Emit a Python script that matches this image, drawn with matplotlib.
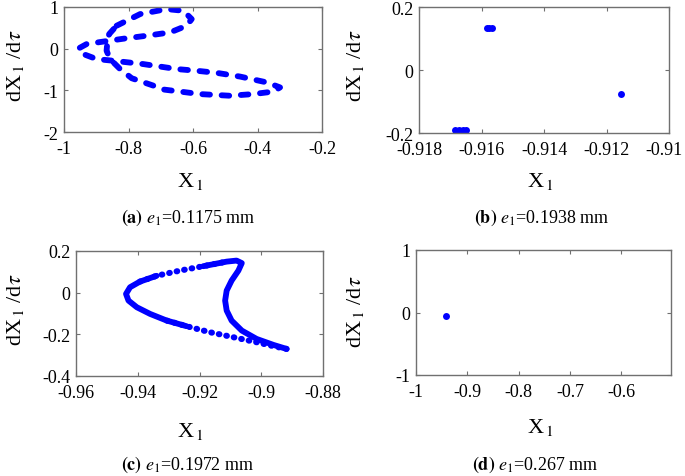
import numpy as np
import matplotlib
matplotlib.use("Agg")
import matplotlib.pyplot as plt
import matplotlib.transforms as mtransforms

plt.rcParams["font.family"] = ["Liberation Serif", "DejaVu Serif"]
plt.rcParams["mathtext.fontset"] = "stix"

# ---------- data ----------
# (a) e1 = 0.1175 mm : closed orbit
xa = [-0.837, -0.764, -0.682, -0.63, -0.604, -0.62, -0.671, -0.744, -0.806,
      -0.878, -0.93, -0.956, -0.94, -0.899, -0.847, -0.754, -0.65, -0.589,
      -0.527, -0.454, -0.371, -0.33, -0.351, -0.413, -0.485, -0.578, -0.692,
      -0.718, -0.79, -0.826, -0.857, -0.868, -0.865, -0.86, -0.837]
ya = [0.55, 0.83, 0.95, 0.91, 0.71, 0.55, 0.39, 0.31, 0.25,
      0.17, 0.11, 0.0, -0.13, -0.25, -0.29, -0.37, -0.49, -0.53,
      -0.58, -0.67, -0.81, -0.93, -1.03, -1.09, -1.13, -1.09, -0.98,
      -0.9, -0.71, -0.49, -0.25, -0.05, 0.2, 0.35, 0.55]

# (b) e1 = 0.1938 mm : period points
xb = [-0.91583, -0.91575, -0.91565, -0.91684, -0.91672, -0.91660, -0.91650, -0.91154]
yb = [0.133, 0.133, 0.133, -0.19, -0.19, -0.19, -0.19, -0.075]

# (c) e1 = 0.1972 mm : closed curve, starting at the right tip
xc = [-0.8918, -0.896, -0.9015, -0.909, -0.9166, -0.9242, -0.9306, -0.936,
      -0.9403, -0.943, -0.9438, -0.9425, -0.9393, -0.9339, -0.9263, -0.9188,
      -0.9112, -0.908, -0.9063, -0.9074, -0.9096, -0.9112, -0.9117, -0.9112,
      -0.9096, -0.9063, -0.9015, -0.896, -0.8918]
yc = [-0.27, -0.257, -0.238, -0.214, -0.19, -0.161, -0.134, -0.102,
      -0.07, -0.038, -0.006, 0.026, 0.053, 0.081, 0.106, 0.127,
      0.149, 0.154, 0.142, 0.106, 0.058, 0.01, -0.038, -0.086,
      -0.134, -0.182, -0.222, -0.251, -0.27]

# (d) e1 = 0.267 mm : fixed point
xd = [-0.942]
yd = [-0.061]

captions = ["a", "b", "c", "d"]
e_vals = ["0.1175", "0.1938", "0.1972", "0.267"]

blue = "#0000ff"
W, H = 685, 477
fig = plt.figure(figsize=(W / 100, H / 100), dpi=100)


def px_axes(l, t, r, b):
    return fig.add_axes([l / W, 1 - b / H, (r - l) / W, (b - t) / H])


def style(ax):
    for s in ax.spines.values():
        s.set_color("#707070")
        s.set_linewidth(1.0)
    ax.tick_params(direction="in", length=3, width=0.8, color="#707070",
                   top=True, right=True, labelsize=13)
    ax.tick_params(axis="x", pad=6)
    ax.tick_params(axis="y", pad=4)


ax_a = px_axes(64, 8, 322, 133)
ax_b = px_axes(419, 8, 669, 134)
ax_c = px_axes(76, 252, 323, 377)
ax_d = px_axes(416, 251, 671, 376)

# (a)
ax_a.plot(xa, ya, color=blue, lw=4.2, ls=(0, (1.3, 2.0)),
          dash_capstyle="round", solid_joinstyle="round")
ax_a.set_xlim(-1, -0.2)
ax_a.set_ylim(-2, 1)
ax_a.set_xticks([-1, -0.8, -0.6, -0.4, -0.2])
ax_a.set_xticklabels(["-1", "-0.8", "-0.6", "-0.4", "-0.2"])
ax_a.set_yticks([-2, -1, 0, 1])
ax_a.set_yticklabels(["-2", "-1", "0", "1"])

# (b)
ax_b.plot(xb, yb, "o", color=blue, ms=5, mec="none")
ax_b.set_xlim(-0.918, -0.91)
ax_b.set_ylim(-0.2, 0.2)
ax_b.set_xticks([-0.918, -0.916, -0.914, -0.912, -0.91])
ax_b.set_xticklabels(["-0.918", "-0.916", "-0.914", "-0.912", "-0.91"])
ax_b.set_yticks([-0.2, 0, 0.2])
ax_b.set_yticklabels(["-0.2", "0", "0.2"])

# (c) solid where the points are dense, beaded where they thin out
seg_solid = [(5, 14), (15, 29)]
seg_dots = [(0, 7), (12, 17)]
for i0, i1 in seg_solid:
    ax_c.plot(xc[i0:i1], yc[i0:i1], color=blue, lw=4.2,
              solid_capstyle="round", solid_joinstyle="round")
for i0, i1 in seg_dots:
    ax_c.plot(xc[i0:i1], yc[i0:i1], color=blue, lw=4.4, ls=(0, (0.1, 1.15)),
              dash_capstyle="round")
ax_c.set_xlim(-0.96, -0.88)
ax_c.set_ylim(-0.4, 0.2)
ax_c.set_xticks([-0.96, -0.94, -0.92, -0.9, -0.88])
ax_c.set_xticklabels(["-0.96", "-0.94", "-0.92", "-0.9", "-0.88"])
ax_c.set_yticks([-0.4, -0.2, 0, 0.2])
ax_c.set_yticklabels(["-0.4", "-0.2", "0", "0.2"])

# (d)
ax_d.plot(xd, yd, "o", color=blue, ms=5, mec="none")
ax_d.set_xlim(-1, -0.503)
ax_d.set_ylim(-1, 1)
ax_d.set_xticks([-1, -0.9, -0.8, -0.7, -0.6])
ax_d.set_xticklabels(["-1", "-0.9", "-0.8", "-0.7", "-0.6"])
ax_d.set_yticks([-1, 0, 1])
ax_d.set_yticklabels(["-1", "0", "1"])

for ax in (ax_a, ax_b, ax_c, ax_d):
    style(ax)

# last tick label of (b) sits at the figure edge: nudge it left a bit
last = ax_b.get_xticklabels()[-1]
last.set_transform(last.get_transform() +
                   mtransforms.ScaledTranslation(-5 / 100, 0, fig.dpi_scale_trans))

# axis labels and captions, placed in pixels
xlab_pos = [(190, 182), (540, 182), (190, 432), (540, 428)]
ylab_pos = [(16, 66), (356, 66), (16, 310), (356, 312)]
cap_pos = [(188, 218), (542, 218), (188, 465), (535, 465)]

for i in range(4):
    x, y = xlab_pos[i]
    fig.text(x / W, 1 - y / H, r"X$_{\,1}$", fontsize=16, ha="center", va="center")
    x, y = ylab_pos[i]
    fig.text(x / W, 1 - y / H, r"dX$_{\,1}$ /d$\tau$", fontsize=16, ha="center",
             va="center", rotation=90)
    x, y = cap_pos[i]
    fig.text(x / W, 1 - y / H,
             r"$\mathbf{(" + captions[i] + r")}$ $e_1$=" + e_vals[i] + " mm",
             fontsize=13, ha="center", va="center")

fig.savefig("out.png", dpi=100)
